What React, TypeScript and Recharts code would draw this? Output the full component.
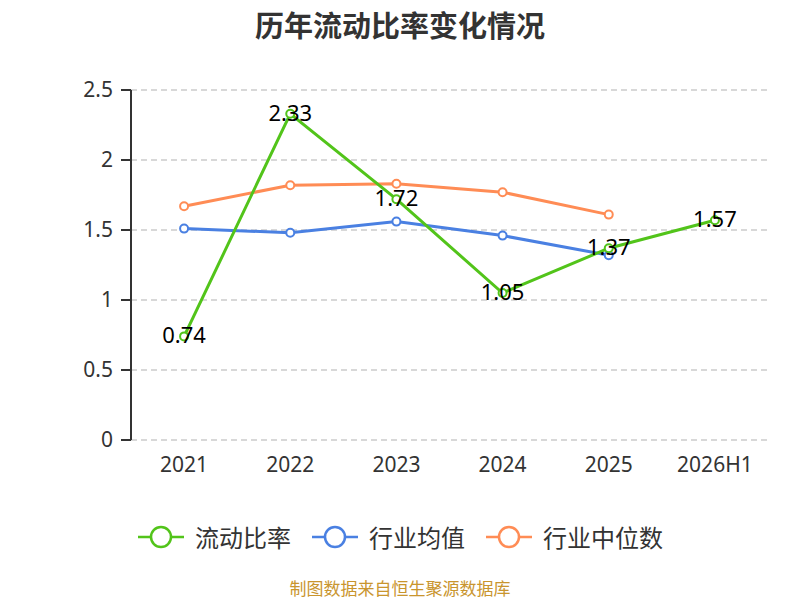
import React from "react";
import {
  CartesianGrid,
  LabelList,
  Line,
  LineChart,
  XAxis,
  YAxis,
} from "recharts";

const categories = ["2021", "2022", "2023", "2024", "2025", "2026H1"];
const currentRatio = [0.74, 2.33, 1.72, 1.05, 1.37, 1.57];
const industryAvg = [1.51, 1.48, 1.56, 1.46, 1.32, null];
const industryMedian = [1.67, 1.82, 1.83, 1.77, 1.61, null];
const yTicks = [0, 0.5, 1, 1.5, 2, 2.5];

const data = categories.map((name, i) => ({
  idx: i,
  name,
  ratio: currentRatio[i],
  avg: industryAvg[i],
  median: industryMedian[i],
}));

// tick marks sit on the category boundaries, labels in the middle
const boundaryTicks = categories.map((_, i) => i - 0.5).concat([categories.length - 0.5]);
const centerTicks = categories.map((_, i) => i);

const font = '"Noto Sans", "Noto Sans CJK SC", sans-serif';
const cjkFont = '"Noto Sans CJK SC", sans-serif';

const GREEN = "#52c41a";
const BLUE = "#4a80e2";
const ORANGE = "#ff8c55";

const legendItems = [
  { name: "流动比率", color: GREEN },
  { name: "行业均值", color: BLUE },
  { name: "行业中位数", color: ORANGE },
];

const ValueLabel = (props: any) => {
  const { x, y, value } = props;
  if (value == null) return null;
  return (
    <text
      x={x}
      y={y - 2}
      textAnchor="middle"
      dominantBaseline="central"
      fontSize={22}
      fill="#000"
      fontFamily={font}
    >
      {value}
    </text>
  );
};

const LegendIcon = ({ color }: { color: string }) => (
  <svg width={48} height={26} style={{ marginRight: 10 }}>
    <line x1={1} y1={13} x2={47} y2={13} stroke={color} strokeWidth={2.5} />
    <circle cx={24} cy={13} r={10} fill="#fff" stroke={color} strokeWidth={2.5} />
  </svg>
);

export default function App() {
  return (
    <div
      style={{
        position: "absolute",
        left: 0,
        top: 0,
        width: 800,
        height: 600,
        background: "#fff",
        fontFamily: font,
      }}
    >
      <div
        style={{
          position: "absolute",
          top: 3,
          width: 800,
          textAlign: "center",
          fontSize: 29,
          fontWeight: "bold",
          color: "#333",
          fontFamily: cjkFont,
        }}
      >
        历年流动比率变化情况
      </div>
      <LineChart
        width={800}
        height={600}
        data={data}
        margin={{ top: 90, right: 32, left: 71, bottom: 130 }}
      >
        <CartesianGrid vertical={false} stroke="#ccc" strokeDasharray="6 4" strokeWidth={1.5} />
        <XAxis
          type="number"
          dataKey="idx"
          domain={[-0.5, categories.length - 0.5]}
          ticks={boundaryTicks}
          tickFormatter={() => ""}
          height={0}
          stroke="#333"
          strokeWidth={2}
          tickSize={9}
        />
        <XAxis
          xAxisId="labels"
          type="number"
          dataKey="idx"
          domain={[-0.5, categories.length - 0.5]}
          ticks={centerTicks}
          tickFormatter={(v) => categories[v] ?? ""}
          axisLine={false}
          tickLine={false}
          tickMargin={11}
          height={30}
          tick={{ fontSize: 21, fill: "#333", fontFamily: font }}
        />
        <YAxis
          domain={[0, 2.5]}
          ticks={yTicks}
          width={60}
          stroke="#333"
          strokeWidth={2}
          tickSize={10}
          tickMargin={8}
          tick={{ fontSize: 21, fill: "#333", fontFamily: font }}
        />
        <Line
          dataKey="avg"
          stroke={BLUE}
          strokeWidth={3}
          dot={{ r: 4, fill: "#fff", stroke: BLUE, strokeWidth: 2 }}
          isAnimationActive={false}
        />
        <Line
          dataKey="median"
          stroke={ORANGE}
          strokeWidth={3}
          dot={{ r: 4, fill: "#fff", stroke: ORANGE, strokeWidth: 2 }}
          isAnimationActive={false}
        />
        <Line
          dataKey="ratio"
          stroke={GREEN}
          strokeWidth={3}
          dot={{ r: 4, fill: "#fff", stroke: GREEN, strokeWidth: 2 }}
          isAnimationActive={false}
        >
          <LabelList dataKey="ratio" content={ValueLabel} />
        </Line>
      </LineChart>
      <div
        style={{
          position: "absolute",
          top: 519,
          width: 800,
          display: "flex",
          justifyContent: "center",
          alignItems: "center",
          fontSize: 24,
          color: "#333",
          fontFamily: cjkFont,
        }}
      >
        {legendItems.map((item) => (
          <div
            key={item.name}
            style={{ display: "flex", alignItems: "center", margin: "0 10px" }}
          >
            <LegendIcon color={item.color} />
            <span>{item.name}</span>
          </div>
        ))}
      </div>
      <div
        style={{
          position: "absolute",
          top: 579,
          width: 800,
          textAlign: "center",
          fontSize: 17,
          lineHeight: "18px",
          color: "#c9952e",
          fontFamily: cjkFont,
        }}
      >
        制图数据来自恒生聚源数据库
      </div>
    </div>
  );
}
